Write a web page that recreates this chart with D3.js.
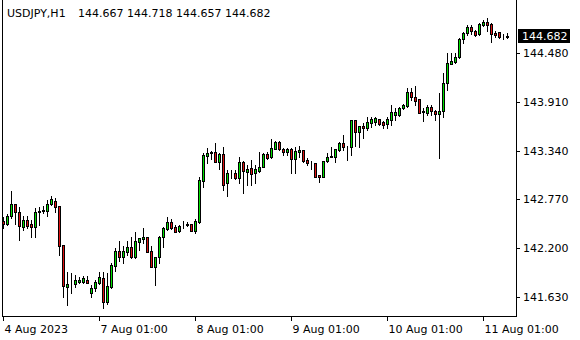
<!DOCTYPE html>
<html lang="en">
<head>
<meta charset="utf-8">
<script src="https://d3js.org/d3.v7.min.js"></script>
<title>USDJPY,H1</title>
<style>
  body { margin: 0; background: #fff; }
  svg text { font-family: "DejaVu Sans", sans-serif; font-size: 11px; fill: #000; }
</style>
</head>
<body>
<svg id="chart" width="580" height="340"></svg>
<script>
// symbol + last bar values shown in the top-left
var symbol = "USDJPY,H1";
var lastBar = ["144.667", "144.718", "144.657", "144.682"];

// hourly bars, 4 Aug 01:00 .. 11 Aug 07:00  [open, high, low, close]
var bars = [
  [142.517,142.564,142.436,142.482],[142.482,142.599,142.470,142.576],[142.576,142.867,142.553,142.716],
  [142.716,142.720,142.482,142.623],[142.623,142.681,142.295,142.459],[142.447,142.576,142.412,142.529],
  [142.529,142.576,142.436,142.459],[142.482,142.529,142.330,142.447],[142.447,142.670,142.330,142.623],
  [142.623,142.681,142.470,142.634],[142.630,142.693,142.611,142.646],[142.634,142.763,142.576,142.716],
  [142.716,142.809,142.704,142.774],[142.751,142.786,142.623,142.681],[142.693,142.698,142.121,142.225],
  [142.237,142.240,141.629,141.758],[141.746,141.922,141.536,141.781],[141.781,141.910,141.676,141.785],
  [141.781,141.887,141.746,141.828],[141.805,141.864,141.793,141.828],[141.805,141.875,141.793,141.852],
  [141.828,141.875,141.790,141.793],[141.676,141.770,141.629,141.735],[141.735,141.828,141.699,141.805],
  [141.793,141.922,141.781,141.864],[141.852,141.922,141.501,141.571],[141.571,141.910,141.547,141.758],
  [141.746,142.027,141.740,142.004],[141.992,142.202,141.933,142.167],[142.167,142.283,142.050,142.097],
  [142.097,142.225,142.027,142.167],[142.156,142.283,142.121,142.214],[142.214,142.330,142.085,142.097],
  [142.097,142.389,142.090,142.283],[142.272,142.322,142.179,142.318],[142.307,142.436,142.260,142.330],
  [142.330,142.335,142.151,142.156],[142.167,142.225,141.975,141.980],[141.980,142.100,141.770,142.097],
  [142.097,142.342,142.027,142.330],[142.330,142.447,142.214,142.436],[142.424,142.564,142.412,142.506],
  [142.506,142.541,142.424,142.436],[142.447,142.470,142.385,142.389],[142.400,142.470,142.389,142.459],
  [142.459,142.517,142.436,142.462],[142.470,142.506,142.459,142.482],[142.482,142.486,142.396,142.400],
  [142.400,142.541,142.377,142.517],[142.506,143.031,142.500,142.996],[142.984,143.312,142.914,143.289],
  [143.277,143.370,143.195,143.312],[143.312,143.335,143.242,143.324],[143.324,143.429,143.202,143.207],
  [143.207,143.312,143.125,143.300],[143.300,143.382,142.879,142.937],[142.961,143.113,142.809,143.078],
  [143.078,143.113,143.020,143.082],[143.078,143.113,143.008,143.020],[143.020,143.265,142.961,143.207],
  [143.207,143.218,142.844,143.101],[143.090,143.172,142.937,143.125],[143.137,143.230,142.937,143.066],
  [143.078,143.172,142.961,143.125],[143.101,143.324,143.095,143.148],[143.148,143.312,143.143,143.300],
  [143.300,143.324,143.242,143.253],[143.265,143.475,143.253,143.370],[143.359,143.452,143.354,143.440],
  [143.440,143.452,143.347,143.359],[143.359,143.370,143.289,143.324],[143.324,143.370,143.289,143.359],
  [143.359,143.370,143.078,143.242],[143.242,143.382,143.078,143.335],[143.324,143.394,143.265,143.347],
  [143.347,143.352,143.207,143.218],[143.230,143.253,143.172,143.195],[143.195,143.218,143.125,143.190],
  [143.190,143.195,143.026,143.031],[143.055,143.060,142.972,143.031],[143.031,143.222,143.026,143.218],
  [143.218,143.312,143.207,143.265],[143.265,143.382,143.260,143.277],[143.265,143.362,143.207,143.359],
  [143.347,143.440,143.335,143.429],[143.429,143.522,143.347,143.382],[143.382,143.394,143.230,143.378],
  [143.378,143.702,143.289,143.697],[143.697,143.702,143.394,143.557],[143.557,143.632,143.382,143.627],
  [143.627,143.662,143.487,143.604],[143.604,143.732,143.580,143.674],[143.662,143.732,143.615,143.709],
  [143.674,143.732,143.639,143.720],[143.709,143.714,143.645,143.650],[143.674,143.686,143.604,143.639],
  [143.650,143.732,143.604,143.709],[143.697,143.872,143.639,143.790],[143.756,143.837,143.697,143.790],
  [143.756,143.849,143.744,143.837],[143.837,143.884,143.825,143.872],[143.861,144.071,143.849,144.024],
  [144.024,144.071,143.931,143.966],[143.966,144.094,143.872,143.919],[143.942,143.947,143.774,143.779],
  [143.790,143.837,143.685,143.802],[143.779,143.872,143.756,143.849],[143.849,143.872,143.756,143.802],
  [143.802,143.814,143.697,143.767],[143.767,144.013,143.253,143.802],[143.802,144.246,143.732,144.129],
  [144.129,144.480,144.048,144.363],[144.351,144.480,144.346,144.386],[144.375,144.480,144.363,144.433],
  [144.433,144.655,144.421,144.643],[144.643,144.725,144.597,144.714],[144.714,144.807,144.690,144.784],
  [144.784,144.807,144.702,144.737],[144.737,144.749,144.679,144.690],[144.702,144.830,144.690,144.819],
  [144.807,144.865,144.795,144.842],[144.842,144.889,144.737,144.807],[144.819,144.825,144.608,144.702],
  [144.714,144.737,144.667,144.690],[144.725,144.730,144.655,144.667],[144.667,144.702,144.643,144.672],
  [144.667,144.718,144.657,144.682]
];

var yTicks = [141.630, 142.200, 142.770, 143.340, 143.910, 144.480];
var lastPrice = 144.682;

var xTickIdx = [0, 24, 48, 72, 96, 120];
var xTickLabels = ["4 Aug 2023", "7 Aug 01:00", "8 Aug 01:00", "9 Aug 01:00", "10 Aug 01:00", "11 Aug 01:00"];

var upColor = "#00e000", downColor = "#dd1111";

var svg = d3.select("#chart");
var plot = {left: 2, right: 516, top: 0, bottom: 316};

var x = d3.scaleLinear().domain([0, bars.length - 1]).range([3, 3 + 4 * (bars.length - 1)]);
var y = d3.scaleLinear().domain([141.408, 145.076]).range([plot.bottom, 2]);

svg.append("clipPath").attr("id", "clip")
  .append("rect").attr("x", plot.left + 1).attr("y", plot.top).attr("width", plot.right - plot.left - 1).attr("height", plot.bottom - plot.top);

var g = svg.append("g").attr("clip-path", "url(#clip)");

var candle = g.selectAll("g.c").data(bars).enter().append("g").attr("class", "c");

// wicks
candle.append("line")
  .attr("x1", function(d, i) { return Math.round(x(i)) + 0.5; })
  .attr("x2", function(d, i) { return Math.round(x(i)) + 0.5; })
  .attr("y1", function(d) { return Math.round(y(d[1])); })
  .attr("y2", function(d) { return Math.round(y(d[2])) + 1; })
  .attr("stroke", "#000").attr("stroke-width", 1);

// bodies
candle.append("rect")
  .attr("x", function(d, i) { return Math.round(x(i)) - 0.5; })
  .attr("y", function(d) { return Math.round(y(Math.max(d[0], d[3]))) + 0.5; })
  .attr("width", 2)
  .attr("height", function(d) {
    var h = Math.round(y(Math.min(d[0], d[3]))) - Math.round(y(Math.max(d[0], d[3])));
    return Math.max(h, 0);
  })
  .attr("fill", function(d) { return d[3] >= d[0] ? upColor : downColor; })
  .attr("stroke", "#000").attr("stroke-width", 1);

// frame
svg.append("line").attr("x1", plot.left + 0.5).attr("x2", plot.left + 0.5).attr("y1", plot.top).attr("y2", plot.bottom + 1).attr("stroke", "#000");
svg.append("line").attr("x1", plot.right + 0.5).attr("x2", plot.right + 0.5).attr("y1", plot.top).attr("y2", plot.bottom + 1).attr("stroke", "#000");
svg.append("line").attr("x1", plot.left).attr("x2", plot.right + 1).attr("y1", plot.bottom + 0.5).attr("y2", plot.bottom + 0.5).attr("stroke", "#000");

// price axis
var ya = svg.append("g");
yTicks.forEach(function(t) {
  var yy = Math.round(y(t)) + 0.5;
  ya.append("line").attr("x1", plot.right).attr("x2", plot.right + 4).attr("y1", yy).attr("y2", yy).attr("stroke", "#000");
  ya.append("text").attr("x", plot.right + 7).attr("y", yy).attr("dy", "0.36em").text(t.toFixed(3));
});

// current price marker
var yl = Math.round(y(lastPrice));
svg.append("rect").attr("x", plot.right + 2).attr("y", yl - 7).attr("width", 52).attr("height", 14).attr("fill", "#000");
svg.append("text").attr("x", plot.right + 6).attr("y", yl).attr("dy", "0.36em").style("fill", "#fff").text(lastPrice.toFixed(3));

// time axis
var xa = svg.append("g");
xTickIdx.forEach(function(idx, k) {
  var xx = Math.round(x(idx)) + 0.5;
  xa.append("line").attr("x1", xx).attr("x2", xx).attr("y1", plot.bottom).attr("y2", plot.bottom + 5).attr("stroke", "#000");
  xa.append("text").attr("x", xx + 1).attr("y", plot.bottom + 17).text(xTickLabels[k]);
});

// header
svg.append("text").attr("x", 7).attr("y", 17).text(symbol);
svg.append("text").attr("x", 78).attr("y", 17).text(lastBar.join(" "));
</script>
</body>
</html>
